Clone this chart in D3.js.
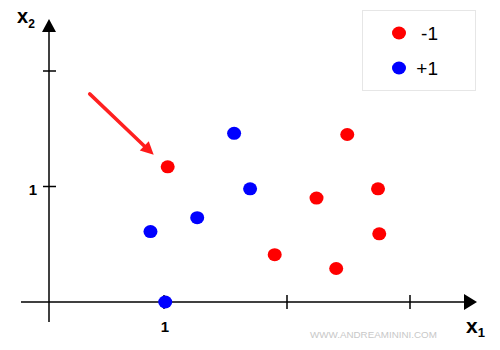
<!DOCTYPE html>
<html>
<head>
<meta charset="utf-8">
<script src="https://cdn.jsdelivr.net/npm/d3@7"></script>
<style>
  html, body { margin: 0; padding: 0; background: #fff; }
  svg { display: block; font-family: "Liberation Sans", Arial, sans-serif; }
</style>
</head>
<body>
<div id="chart"></div>
<script>
// data
const negX = [1.03, 2.49, 2.74, 2.24, 2.75, 1.90, 2.40];
const negY = [1.17, 1.45, 0.98, 0.90, 0.59, 0.41, 0.29];
const posX = [1.57, 1.70, 1.27, 0.89, 1.01];
const posY = [1.46, 0.98, 0.73, 0.61, 0.00];

const classes = ["-1", "+1"];
const xTicks = [1, 2, 3];
const yTicks = [1, 2];
const tickLabels = ["1"];
const highlight = 0; // index in negX of the point the arrow points at

const COLORS = { "-1": "#ff0000", "+1": "#0000ff" };

const W = 500, H = 350;
const AXIS_X = 49;     // pixel column of the vertical axis
const DOT_RX = 7, DOT_RY = 6.5;

const x = d3.scaleLinear().domain([0, 3]).range([41, 410]);
const y = d3.scaleLinear().domain([0, 2]).range([302, 71]);

const points = [
  ...negX.map((v, i) => ({ x: v, y: negY[i], c: "-1" })),
  ...posX.map((v, i) => ({ x: v, y: posY[i], c: "+1" })),
];

const svg = d3.select("#chart").append("svg")
  .attr("width", W).attr("height", H);

// Axes
const axisY = y(0);
svg.append("line")
  .attr("x1", 21).attr("x2", 466)
  .attr("y1", axisY).attr("y2", axisY)
  .attr("stroke", "#000").attr("stroke-width", 1.5);
svg.append("path")
  .attr("d", `M464,${axisY - 8}L477,${axisY}L464,${axisY + 8}Z`)
  .attr("fill", "#000");

svg.append("line")
  .attr("x1", AXIS_X).attr("x2", AXIS_X)
  .attr("y1", 30).attr("y2", 322)
  .attr("stroke", "#000").attr("stroke-width", 1.5);
svg.append("path")
  .attr("d", `M${AXIS_X - 7},32L${AXIS_X},19L${AXIS_X + 7},32Z`)
  .attr("fill", "#000");

// Tick marks
svg.selectAll(".xtick").data(xTicks).enter().append("line")
  .attr("x1", d => x(d)).attr("x2", d => x(d))
  .attr("y1", axisY - 7).attr("y2", axisY + 7)
  .attr("stroke", "#000").attr("stroke-width", 1.5);
svg.selectAll(".ytick").data(yTicks).enter().append("line")
  .attr("x1", AXIS_X - 6).attr("x2", AXIS_X + 7)
  .attr("y1", d => y(d)).attr("y2", d => y(d))
  .attr("stroke", "#000").attr("stroke-width", 1.5);

// Tick labels
svg.append("text")
  .attr("x", x(1) + 1).attr("y", 331.5)
  .attr("text-anchor", "middle")
  .attr("font-size", 15).attr("font-weight", "bold")
  .text(tickLabels[0]);
svg.append("text")
  .attr("x", 33).attr("y", y(1) + 8)
  .attr("text-anchor", "middle")
  .attr("font-size", 15).attr("font-weight", "bold")
  .text(tickLabels[0]);

// Axis titles
const t2 = svg.append("text").attr("x", 17).attr("y", 23)
  .attr("font-size", 20).attr("font-weight", "bold");
t2.append("tspan").text("x");
t2.append("tspan").attr("font-size", 12).attr("dy", 5).text("2");

const t1 = svg.append("text").attr("x", 466).attr("y", 333)
  .attr("font-size", 21).attr("font-weight", "bold");
t1.append("tspan").text("x");
t1.append("tspan").attr("font-size", 13).attr("dy", 4).text("1");

// Points
svg.selectAll(".pt").data(points).enter().append("ellipse")
  .attr("cx", d => x(d.x)).attr("cy", d => y(d.y))
  .attr("rx", DOT_RX).attr("ry", DOT_RY)
  .attr("fill", d => COLORS[d.c]);

// Annotation arrow pointing at the highlighted point
const hx = x(negX[highlight]) - 14, hy = y(negY[highlight]) - 12;
const sx = hx - 64, sy = hy - 61;
const ang = Math.atan2(hy - sy, hx - sx);
const ah = 13, aw = 6.5;
const bx = hx - ah * Math.cos(ang), by = hy - ah * Math.sin(ang);
svg.append("line")
  .attr("x1", sx).attr("y1", sy).attr("x2", bx).attr("y2", by)
  .attr("stroke", "#ff2020").attr("stroke-width", 3.5).attr("stroke-linecap", "round");
svg.append("path")
  .attr("d", `M${hx},${hy}L${bx + aw * Math.sin(ang)},${by - aw * Math.cos(ang)}L${bx - aw * Math.sin(ang)},${by + aw * Math.cos(ang)}Z`)
  .attr("fill", "#ff1a1a");

// Legend
const legend = svg.append("g");
legend.append("rect")
  .attr("x", 362.5).attr("y", 10.5).attr("width", 113).attr("height", 80)
  .attr("fill", "#fff").attr("stroke", "#e6e6e6");
const items = legend.selectAll(".item").data(classes).enter().append("g")
  .attr("transform", (d, i) => `translate(0, ${33 + i * 35})`);
items.append("ellipse")
  .attr("cx", 399).attr("cy", 0).attr("rx", DOT_RX).attr("ry", DOT_RY)
  .attr("fill", d => COLORS[d]);
items.append("text")
  .attr("x", 438).attr("y", 6.5)
  .attr("text-anchor", "end").attr("font-size", 19)
  .text(d => d);

// Watermark
svg.append("text")
  .attr("x", 310).attr("y", 338)
  .attr("font-size", 9.8).attr("fill", "#c8c8c8")
  .text("WWW.ANDREAMININI.COM");
</script>
</body>
</html>
